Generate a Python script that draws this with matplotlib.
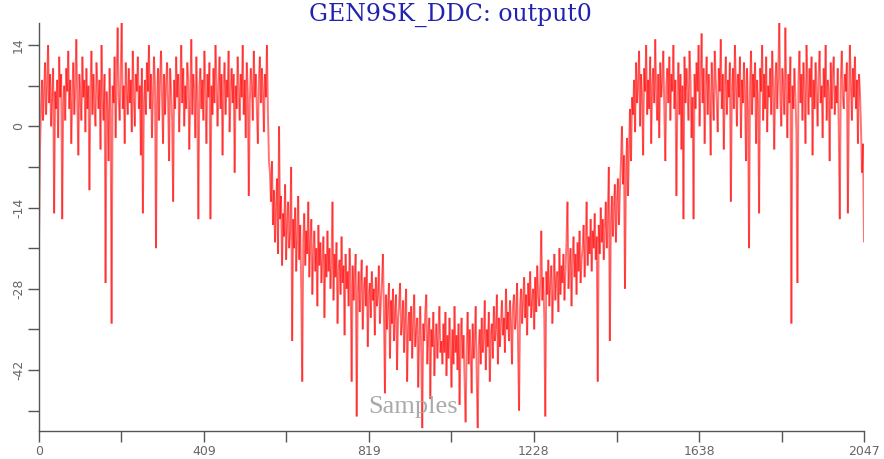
import matplotlib
matplotlib.use("Agg")
import matplotlib.pyplot as plt
from matplotlib.collections import LineCollection
import numpy as np

plt.rcParams["axes.unicode_minus"] = False

# signal, roughly one value every 2.5 samples
flat_start = [
    -20, -4, 3, 8, 1, 6, 11, 2, 7, 14, 4, 9, 0, 5, 10, -15, 6, 3, 8, -2,
    12, 5, 9, -16, 4, 7, 1, 10, 6, 13, 3, 8, -3, 5, 11, 2, 7, 15, 4, -5,
    9, 6, 1, 12, 5, 8, -1, 10, 3, 7, -11, 6, 13, 2, 9, 4, 0, 11, 7, 3,
    8, -4, 14, 5, 1, 9, -27, 6, 3, -6, 10, 2, -34, 7, 4, 12, -2, 8, 17, 5,
    1, 9, 18, 3, 7, -3, 11, 6, 2, 10, 4, 8, -1, 13, 5, 0, 9, 6, 12, 3,
    7, -5, 10, -15, 4, 8, 2, 11, 6, 14, 3, 9, -2, 5, 12, 7, -21, 4, 10, 1,
    8, 13, 5, -3, 9, 2, 7, 11, 4, -6, 10, 6, 1, -13, 8, 3, 12, 5, 9, -1,
    6, 14, 4, 10, 0, 7, 3, 11, 8, -4, 5, 15, 2, 9, 6, -2, 12, 4, -16, 7,
    10, 3, 8, 1, 13, 6, -3, 9, 5, 11, -16, 7, 2, 10, 4, 14, 8, 0, 6, 12,
    3, 9, -5, 7, 11, 2, 8, 5, 13, -1, 6, 10, 4, 9, -8, 7, 3, 12, 6, 1,
    9, 5, 14, 2, 8, -2, 11, 6, -12, 4, 10, 7, 1, 13, 5, 9, 3, -3, 8, 12,
    4, 10, 6, -1, 9, 5, 14, 2, -6]
descent = [
    -8, -13, -6, -17, -11, -20, -14, -9, -22, 0, -16, -12, -24, -15, -19, -10, -23, -17, -13, -21,
    -18, -7, -37, -16, -21, -14, -25, -19, -12, -23, -17, -28, -44, -20, -15, -24, -18, -22, -13, -26,
    -20, -16, -29, -22, -18, -25, -21, -31, -17, -24, -20, -27, -23, -19, -33, -22, -26, -18, -25, -21,
    -28, -24, -13, -30, -22, -26, -20, -34, -25, -23, -29, -19, -27, -24, -36, -22, -28, -25, -31, -21,
    -27, -44, -24, -30, -26, -22, -50, -29, -25, -32, -27, -23, -35, -28, -26, -31, -24, -38, -29, -27,
    -33, -25, -30, -28, -36, -26, -31, -29, -24, -34, -30, -27, -22, -32, -46, -29, -35, -31, -27, -40,
    -30, -34, -28, -37, -32, -29, -42, -33, -31, -27, -36, -34, -30, -39, -33, -28, -44, -35, -32, -37,
    -31, -40, -34, -29, -38, -35, -33, -45, -36, -31, -39, -52, -34, -37, -32, -29, -41, -36, -33, -47,
    -35, -38, -32, -43, -37, -34, -40, -36, -31, -39]
ascent = [
    -37, -41, -34, -39, -32, -43, -36, -40, -33, -38, -45, -35, -41, -31, -39, -36, -42, -34, -48, -37,
    -33, -40, -36, -44, -51, -38, -32, -41, -35, -39, -46, -34, -40, -37, -31, -43, -52, -38, -35, -41,
    -33, -39, -36, -30, -42, -35, -38, -32, -44, -36, -34, -40, -31, -37, -35, -29, -41, -33, -38, -34,
    -30, -36, -33, -39, -28, -35, -32, -37, -30, -34, -41, -31, -29, -35, -33, -27, -38, -49, -31, -28,
    -34, -30, -26, -33, -29, -36, -27, -31, -25, -33, -30, -28, -35, -26, -32, -24, -29, -31, -27, -18,
    -30, -26, -33, -50, -25, -29, -23, -31, -27, -24, -34, -28, -22, -30, -26, -25, -32, -21, -29, -24,
    -27, -22, -30, -25, -20, -13, -28, -24, -21, -31, -23, -19, -26, -22, -29, -20, -25, -18, -27, -23,
    -21, -17, -26, -20, -13, -24, -19, -22, -16, -25, -18, -21, -15, -23, -19, -44, -17, -22, -14, -20,
    -16, -23, -18, -13, -21, -15, -7, -37, -17, -12, -19, -14, -10, -20, -13, -9, -17, -11, -6, 0,
    -10, -5, -28, -8, -2, -12, -4, 3, -6, 5]
flat_end = [
    2, 8, -1, 11, 4, 7, 13, 0, 9, 5, -5, 10, 6, 14, 2, 8, 3, 12, -3, 7,
    10, 4, 15, 6, 1, 9, -2, 11, 5, 8, 13, 3, -6, 7, 10, 4, 12, 1, 9, 6,
    14, 3, 8, -12, 5, 11, 2, 9, -4, 7, -16, 12, 4, 10, 6, 1, 13, 8, -2, 5,
    -16, 9, 3, 11, 6, 14, 0, 8, 16, 4, 10, -3, 7, 12, 2, 9, 5, -5, 11, 6,
    1, 13, 8, 4, -1, 10, 6, 15, 3, 9, -4, 7, 12, 2, 8, 5, 11, -13, 6, 10,
    3, 14, 7, 0, 9, 5, 12, -2, 8, 4, 11, 6, -6, 10, 3, -21, 7, 13, 2, 9,
    5, 11, -3, 8, 4, -15, 10, 6, 14, 1, 9, 3, 12, -1, 7, 5, 10, 2, 13, 6,
    -4, 8, 11, 3, 9, 18, 5, 0, 10, 7, 2, 17, 6, -2, 9, 4, 12, -34, 7, 3,
    10, 5, -1, -27, 8, 13, 4, 9, 1, 11, 6, -3, 14, 7, 2, 10, 5, 12, -5, 8,
    3, 11, 6, 0, 9, 13, 4, 7, -2, 10, 5, 14, 1, 8, 6, -6, 11, 3, 9, 12,
    2, 7, 4, 10, -1, -16, 8, 13, 5, 3, 9, 6, 11, -15, 4, 14, 7, 1, 10, 5,
    12, 3, 8, -3, 9, 6, 0, -8, -3, -20]

values = np.array(flat_start + descent + ascent + flat_end, dtype=float)
samples = np.linspace(0, 2047, len(values))

x_ticks = [0, 409, 819, 1228, 1638, 2047]
y_ticks = [-42, -28, -14, 0, 14]

fig = plt.figure(figsize=(8.84, 4.59), dpi=100)
ax = fig.add_axes([39 / 884, 28 / 459, 825 / 884, 408 / 459])

pts = np.column_stack([samples, values])
segs = np.stack([pts[:-1], pts[1:]], axis=1)
lc = LineCollection(segs, colors="#ff0000", alpha=0.55, linewidths=1.4)
ax.add_collection(lc)

ax.set_xlim(0, 2047)
ax.set_ylim(-52.5, 17.8)

ax.set_xticks(x_ticks)
ax.set_xticks([(a + b) / 2 for a, b in zip(x_ticks[:-1], x_ticks[1:])], minor=True)
ax.set_yticks(y_ticks)
ax.set_yticks([-49, -35, -21, -7, 7], minor=True)

ax.tick_params(which="both", direction="out", length=8, width=1, color="#555555",
               labelcolor="#666666", labelsize=9, pad=2)
ax.tick_params(axis="y", labelrotation=90, pad=2)
for lab in ax.get_yticklabels():
    lab.set_va("center")

for side in ["top", "right"]:
    ax.spines[side].set_visible(False)
for side in ["left", "bottom"]:
    ax.spines[side].set_color("#555555")
    ax.spines[side].set_linewidth(1)

fig.text(0.51, 0.968, "GEN9SK_DDC: output0", ha="center", va="center",
         fontsize=17, family="DejaVu Serif", color="#2222b0")
ax.text(0.453, 0.058, "Samples", transform=ax.transAxes, ha="center", va="center",
        fontsize=19, family="Liberation Serif", color="#aaaaaa")

fig.savefig("out.png", dpi=100)
